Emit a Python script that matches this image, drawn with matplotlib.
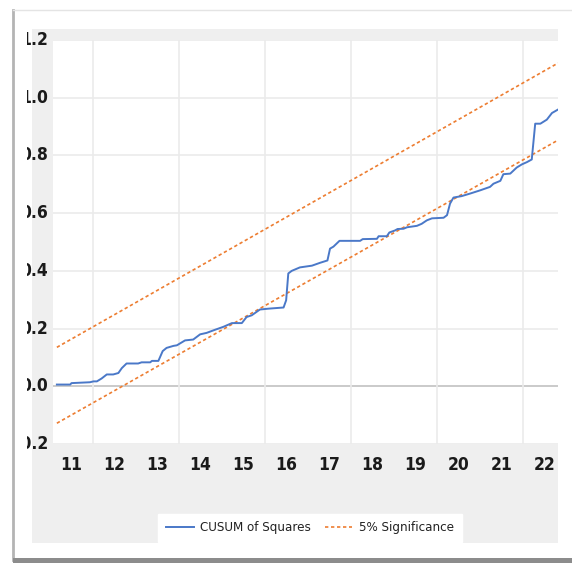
import matplotlib
matplotlib.use("Agg")
import matplotlib.pyplot as plt
from matplotlib.patches import Rectangle
from matplotlib.transforms import Bbox, TransformedBbox
from matplotlib.lines import Line2D

# ---------------- data ----------------
cusum_x = [2011.16, 2011.47, 2011.50, 2011.93, 2012.01, 2012.09, 2012.20, 2012.32, 2012.47,
           2012.59, 2012.67, 2012.78, 2013.05, 2013.13, 2013.33, 2013.37, 2013.52, 2013.62,
           2013.71, 2013.87, 2013.95, 2014.14, 2014.33, 2014.49, 2014.64, 2014.84, 2015.03,
           2015.23, 2015.46, 2015.57, 2015.69, 2015.88, 2016.08, 2016.43, 2016.49, 2016.54,
           2016.62, 2016.81, 2017.09, 2017.28, 2017.45, 2017.51, 2017.59, 2017.73, 2018.21,
           2018.27, 2018.60, 2018.64, 2018.83, 2018.89, 2019.02, 2019.08, 2019.22, 2019.30,
           2019.53, 2019.64, 2019.76, 2019.88, 2020.15, 2020.23, 2020.30, 2020.38, 2020.57,
           2020.77, 2021.00, 2021.23, 2021.31, 2021.47, 2021.54, 2021.70, 2021.85, 2021.97,
           2022.09, 2022.20, 2022.28, 2022.40, 2022.55, 2022.67, 2022.81]
cusum_y = [0.006, 0.006, 0.011, 0.014, 0.017, 0.017, 0.027, 0.041, 0.041,
           0.046, 0.063, 0.079, 0.079, 0.083, 0.083, 0.088, 0.088, 0.122,
           0.133, 0.140, 0.142, 0.159, 0.162, 0.180, 0.185, 0.196, 0.206,
           0.219, 0.219, 0.240, 0.246, 0.266, 0.269, 0.273, 0.298, 0.391,
           0.400, 0.412, 0.418, 0.428, 0.436, 0.477, 0.484, 0.504, 0.504,
           0.510, 0.511, 0.520, 0.520, 0.533, 0.540, 0.545, 0.546, 0.551,
           0.556, 0.563, 0.575, 0.582, 0.584, 0.593, 0.633, 0.654, 0.659,
           0.668, 0.679, 0.691, 0.702, 0.712, 0.735, 0.737, 0.758, 0.769,
           0.777, 0.786, 0.910, 0.910, 0.924, 0.947, 0.959]
sig_x = [2011.16, 2022.81]
sig_upper = [0.135, 1.120]
sig_lower = [-0.128, 0.853]

year_labels = ["11", "12", "13", "14", "15", "16", "17", "18", "19", "20", "21", "22"]
year_pos = [2011.5, 2012.5, 2013.5, 2014.5, 2015.5, 2016.5, 2017.5, 2018.5, 2019.5,
            2020.5, 2021.5, 2022.5]
y_ticks = [1.2, 1.0, 0.8, 0.6, 0.4, 0.2, 0.0, -0.2]
y_labels = ["1.2", "1.0", "0.8", "0.6", "0.4", "0.2", "0.0", "-0.2"]
vgrid = [2012, 2014, 2016, 2018, 2020, 2022]

W, H = 572, 563
fig = plt.figure(figsize=(W / 100, H / 100), dpi=100)
fig.patch.set_facecolor("white")

def fx(px):
    return px / W

def fy(py):
    return 1 - py / H

# frame decorations (behind the axes)
fig.add_artist(Line2D([fx(13), fx(13)], [fy(10), fy(560)], color="#b4b4b4", lw=2.0, zorder=-2))
fig.add_artist(Line2D([fx(13), fx(572)], [fy(10), fy(10)], color="#e4e4e4", lw=1.0, zorder=-2))
fig.add_artist(Rectangle((fx(13), fy(563)), fx(572) - fx(13), fy(558) - fy(563),
                         facecolor="#8c8c8c", edgecolor="none", zorder=-2))
fig.add_artist(Rectangle((fx(32), fy(543)), fx(558) - fx(32), fy(29) - fy(543),
                         facecolor="#efefef", edgecolor="none", zorder=-1))

tick_font = dict(family="DejaVu Sans", fontstretch="condensed", fontweight="bold",
                 fontsize=12.5, color="#1a1a1a")

ax = fig.add_axes([fx(53), fy(444), fx(558) - fx(53), fy(40) - fy(444)])
ax.set_facecolor("white")
for s in ax.spines.values():
    s.set_visible(False)
ax.set_xlim(2011.07, 2022.81)
ax.set_ylim(-0.2, 1.2)

for g in y_ticks:
    if g == 0.0:
        ax.axhline(g, color="#c6c6c6", lw=1.3, zorder=1)
    else:
        ax.axhline(g, color="#ebebeb", lw=1.2, zorder=1)
for v in vgrid:
    ax.axvline(v, color="#ebebeb", lw=1.2, zorder=1)

ax.plot(cusum_x, cusum_y, color="#4A78C8", lw=1.4, zorder=3, label="CUSUM of Squares")
ax.plot(sig_x, sig_upper, color="#ED7D31", lw=1.2, ls=(0, (2.0, 1.6)), zorder=2,
        label="5% Significance")
ax.plot(sig_x, sig_lower, color="#ED7D31", lw=1.2, ls=(0, (2.0, 1.6)), zorder=2)

ax.set_xticks([])
ax.set_yticks([])

clip = TransformedBbox(Bbox([[fx(26.5), 0], [1, 1]]), fig.transFigure)
for v, lab in zip(y_ticks, y_labels):
    t = ax.text(-0.01, v, lab, transform=ax.get_yaxis_transform(), ha="right", va="center",
                **tick_font)
    t.set_clip_path(None)
    t.set_clip_box(clip)
    t.set_clip_on(True)

for p, lab in zip(year_pos, year_labels):
    ax.text(p, -0.052, lab, transform=ax.get_xaxis_transform(), ha="center", va="center",
            clip_on=False, **tick_font)

leg = fig.legend(loc="center", bbox_to_anchor=(fx(310), fy(528)), ncol=2, frameon=True,
                 fancybox=False, edgecolor="white", facecolor="white", framealpha=1,
                 prop={"family": "DejaVu Sans", "stretch": "condensed", "size": 9.5},
                 handlelength=2.1, handletextpad=0.5, columnspacing=1.0,
                 borderpad=0.6, borderaxespad=0)
for t in leg.get_texts():
    t.set_color("#222222")

fig.savefig("out.png", dpi=100, facecolor="white")
